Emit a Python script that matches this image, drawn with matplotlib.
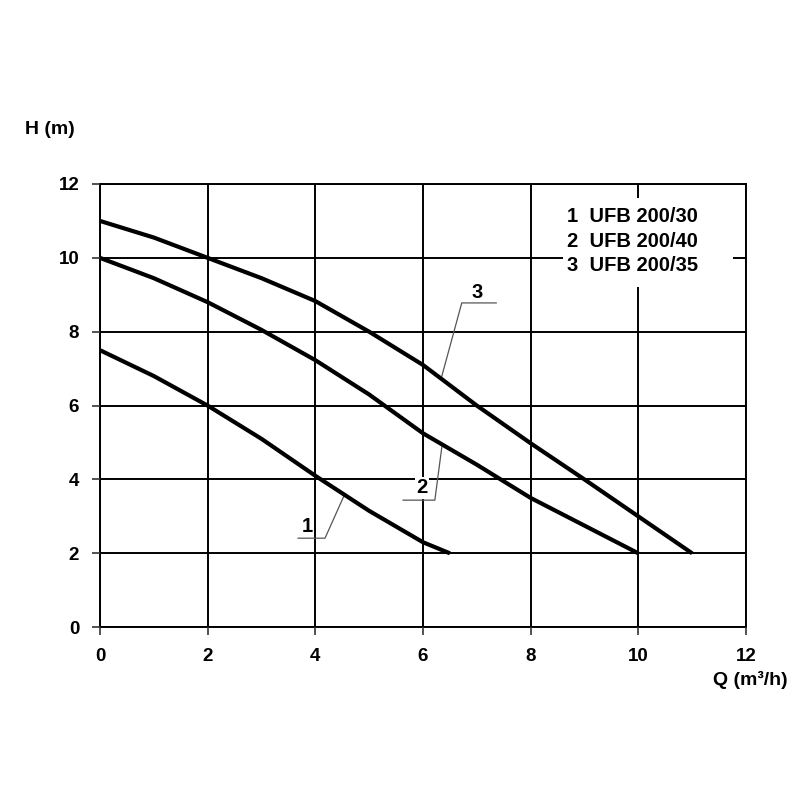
import matplotlib as mpl

mpl.use('Agg')
import matplotlib.pyplot as plt
from matplotlib.patches import Rectangle

# curve data
q1 = [0, 1, 2, 3, 4, 5, 6, 6.5]
h1 = [7.5, 6.8, 6.0, 5.1, 4.1, 3.15, 2.3, 2.0]

q2 = [0, 1, 2, 3, 4, 5, 6, 7, 8, 9, 10]
h2 = [10.0, 9.45, 8.8, 8.05, 7.23, 6.3, 5.25, 4.4, 3.5, 2.75, 2.0]

q3 = [0, 1, 2, 3, 4, 5, 6, 7, 8, 9, 10, 11]
h3 = [11.0, 10.55, 10.0, 9.45, 8.83, 8.0, 7.1, 6.0, 4.98, 4.0, 3.0, 2.0]

legend_lines = ['1  UFB 200/30', '2  UFB 200/40', '3  UFB 200/35']
ticks = [0, 2, 4, 6, 8, 10, 12]

plt.rcParams['font.family'] = ['Liberation Sans', 'DejaVu Sans']

fig = plt.figure(figsize=(8, 8), dpi=100)
ax = fig.add_axes([0.125, 0.216, 0.8075, 0.554])

ax.set_xlim(0, 12)
ax.set_ylim(0, 12)
ax.set_xticks(ticks)
ax.set_yticks(ticks)
ax.set_xticklabels([str(t) for t in ticks], fontsize=13.5, fontweight='bold')
ax.set_yticklabels([str(t) for t in ticks], fontsize=13.5, fontweight='bold')
ax.tick_params(direction='out', length=6, width=1.2, pad=9, color='#333333')
ax.grid(True, color='black', lw=1.4, zorder=1)
for s in ax.spines.values():
    s.set_linewidth(1.4)
    s.set_zorder(1)

# curves
for q, h in [(q1, h1), (q2, h2), (q3, h3)]:
    ax.plot(q, h, color='black', lw=3, zorder=4, solid_capstyle='butt')

# leader lines and curve numbers
lc = '#555555'
ax.plot([3.68, 4.18, 4.53], [2.41, 2.41, 3.55], color=lc, lw=0.9, zorder=3)
ax.text(3.85, 2.74, '1', fontsize=14.5, fontweight='bold', ha='center', va='center',
        zorder=5, bbox=dict(facecolor='white', edgecolor='none', pad=1))
ax.plot([5.63, 6.22, 6.35], [3.44, 3.44, 4.88], color=lc, lw=0.9, zorder=3)
ax.text(5.98, 3.77, '2', fontsize=14.5, fontweight='bold', ha='center', va='center',
        zorder=5, bbox=dict(facecolor='white', edgecolor='none', pad=1))
ax.plot([7.36, 6.72, 6.35], [8.78, 8.78, 6.80], color=lc, lw=0.9, zorder=3)
ax.text(7.0, 9.05, '3', fontsize=14.5, fontweight='bold', ha='center', va='center', zorder=5)

# legend box
ax.add_patch(Rectangle((8.6, 9.2), 3.15, 2.42, facecolor='white', edgecolor='none', zorder=2))
for i, line in enumerate(legend_lines):
    ax.text(8.68, 11.13 - i * 0.675, line, fontsize=14.5, fontweight='bold',
            ha='left', va='center', zorder=5)

fig.text(0.0625, 0.838, 'H (m)', fontsize=14, fontweight='bold', ha='center', va='center')
fig.text(0.9375, 0.15, 'Q (m³/h)', fontsize=14, fontweight='bold', ha='center', va='center')

fig.savefig('out.png', dpi=100)
